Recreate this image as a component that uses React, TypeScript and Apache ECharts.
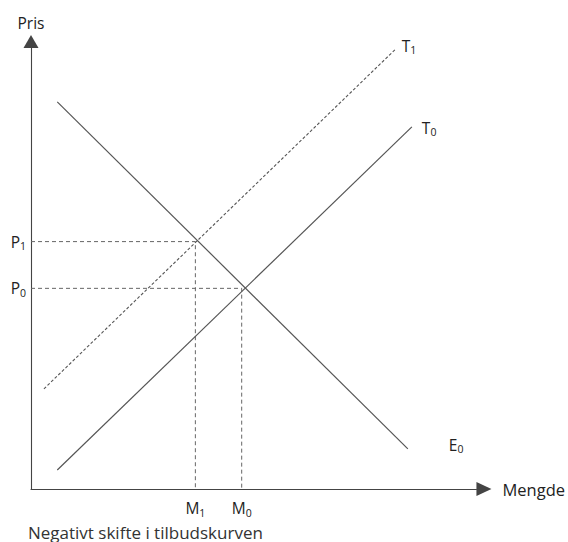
import React, { useEffect, useRef } from "react";
import * as echarts from "echarts";

// Curves (quantity, price) in chart units 0..100
const demandE0: number[][] = [[5.9, 87.8], [84.6, 9.1]];
const supplyT0: number[][] = [[5.9, 4.3], [85.5, 82.1]];
const supplyT1: number[][] = [[2.9, 22.7], [81.9, 99.8]];

// Equilibria
const priceP0 = 45.5;
const priceP1 = 56.1;
const qtyM0 = 47.3;
const qtyM1 = 36.9;

const priceTicks = [priceP0, priceP1];
const priceTickLabels = ["{m|P}{s|0}", "{m|P}{s|1}"];
const qtyTicks = [qtyM1, qtyM0];
const qtyTickLabels = ["{m|M}{s|1}", "{m|M}{s|0}"];

const FONT = "Open Sans";
const TXT = "#222";

const rich = {
  m: { fontSize: 15.5, fontFamily: FONT, color: TXT, lineHeight: 20, verticalAlign: "middle" as const },
  s: { fontSize: 10.5, fontFamily: FONT, color: TXT, lineHeight: 10, verticalAlign: "bottom" as const },
};

export default function App() {
  const ref = useRef<HTMLDivElement>(null);
  useEffect(() => {
    if (!ref.current) return;
    const chart = echarts.init(ref.current, undefined, { renderer: "svg" });
    const axisLine = (offset: number, size: number[]) => ({
      show: true,
      symbol: ["none", "triangle"],
      symbolSize: size,
      symbolOffset: [0, offset],
      lineStyle: { color: "#444", width: 1.1 },
    });
    const guide = (x: number, y: number) => ({
      type: "line",
      data: [[0, y], [x, y], [x, 0]],
      showSymbol: false,
      silent: true,
      lineStyle: { color: "#666", width: 1, type: [4, 3] },
      z: 1,
    });
    chart.setOption({
      animation: false,
      backgroundColor: "#fff",
      title: {
        text: "Negativt skifte i tilbudskurven",
        left: 28,
        top: 522,
        padding: 0,
        textStyle: { fontSize: 17, lineHeight: 20, fontWeight: "normal", fontFamily: FONT, color: "#333" },
      },
      grid: { left: 31, top: 48, right: 90, bottom: 53 },
      xAxis: {
        type: "value",
        min: 0,
        max: 100,
        name: "Mengde",
        nameLocation: "end",
        nameGap: 26,
        nameTextStyle: { fontSize: 16.5, fontFamily: FONT, color: TXT },
        axisLine: axisLine(7.5, [14, 15]),
        axisTick: { show: false },
        splitLine: { show: false },
        axisLabel: {
          customValues: qtyTicks,
          margin: 9,
          formatter: (v: number) => qtyTickLabels[qtyTicks.indexOf(v)] ?? "",
          rich,
        },
      },
      yAxis: {
        type: "value",
        min: 0,
        max: 100,
        name: "Pris",
        nameLocation: "end",
        nameGap: 17,
        nameTextStyle: { fontSize: 15.5, fontFamily: FONT, color: TXT },
        axisLine: axisLine(6.5, [15, 13]),
        axisTick: { show: false },
        splitLine: { show: false },
        axisLabel: {
          customValues: priceTicks,
          margin: 5,
          formatter: (v: number) => priceTickLabels[priceTicks.indexOf(v)] ?? "",
          rich,
        },
      },
      series: [
        guide(qtyM1, priceP1),
        guide(qtyM0, priceP0),
        {
          type: "line",
          data: demandE0,
          showSymbol: false,
          silent: true,
          lineStyle: { color: "#555", width: 1.2 },
          endLabel: { show: true, formatter: "{m|E}{s|0}", rich, distance: 41, offset: [0, -4] },
        },
        {
          type: "line",
          data: supplyT0,
          showSymbol: false,
          silent: true,
          lineStyle: { color: "#555", width: 1.2 },
          endLabel: { show: true, formatter: "{m|T}{s|0}", rich, distance: 10, offset: [0, 1] },
        },
        {
          type: "line",
          data: supplyT1,
          showSymbol: false,
          silent: true,
          lineStyle: { color: "#555", width: 1.1, type: [3, 2] },
          endLabel: { show: true, formatter: "{m|T}{s|1}", rich, distance: 6, offset: [0, -3] },
        },
      ],
    });
    return () => chart.dispose();
  }, []);
  return (
    <div
      ref={ref}
      style={{ position: "fixed", left: 0, top: 0, width: 568, height: 542, background: "#fff" }}
    />
  );
}
